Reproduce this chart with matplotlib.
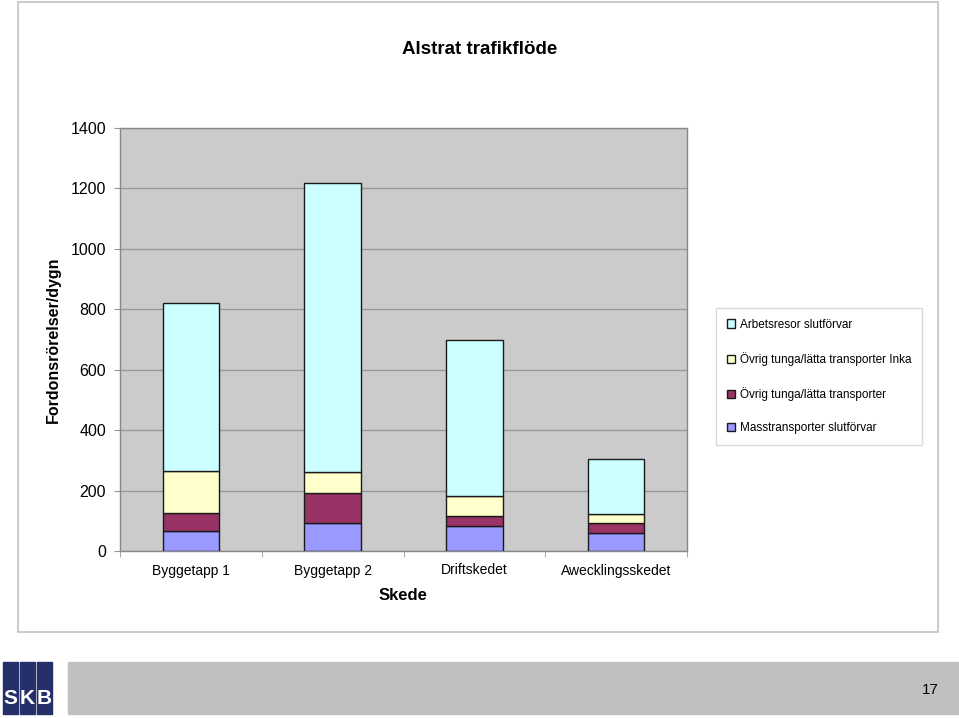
import numpy as np
import matplotlib.pyplot as plt
from matplotlib.patches import Rectangle, Patch

plt.rcParams['font.family'] = ['Liberation Sans', 'DejaVu Sans']

categories = ['Byggetapp 1', 'Byggetapp 2', 'Driftskedet', 'Awecklingsskedet']
mass = [66, 92, 82, 58]
ovrig = [61, 101, 35, 34]
ovrig_inka = [137, 69, 66, 31]
arbets = [557, 955, 517, 182]

series = [
    ('Masstransporter slutförvar', mass, '#9999FF'),
    ('Övrig tunga/lätta transporter', ovrig, '#993366'),
    ('Övrig tunga/lätta transporter Inka', ovrig_inka, '#FFFFCC'),
    ('Arbetsresor slutförvar', arbets, '#CCFFFF'),
]

W, H = 959, 718
fig = plt.figure(figsize=(W / 100, H / 100), dpi=100)

# chart frame
fig.patches.append(Rectangle((18 / W, 1 - 632 / H), 920 / W, 630 / H,
                             transform=fig.transFigure, fill=False,
                             edgecolor='#C0C0C0', lw=1.2))

ax = fig.add_axes([120 / W, 1 - 551 / H, 567 / W, 423 / H])
ax.set_facecolor('#CBCBCB')

x = np.arange(len(categories))
bottom = np.zeros(len(categories))
for name, vals, col in series:
    ax.bar(x, vals, width=0.4, bottom=bottom, color=col,
           edgecolor='#1a1a1a', linewidth=1.0, zorder=3)
    bottom += np.array(vals)

ax.set_xlim(-0.5, len(categories) - 0.5)
ax.set_ylim(0, 1400)
ax.set_yticks(range(0, 1401, 200))
ax.yaxis.grid(True, color='#999999', lw=1.0, zorder=0)
ax.set_xticks(x)
ax.set_xticklabels(categories, fontsize=10)
ax.set_xticks(np.arange(len(categories) + 1) - 0.5, minor=True)
ax.tick_params(axis='x', which='major', length=0, pad=9)
ax.tick_params(axis='x', which='minor', length=4, color='#999999')
ax.tick_params(axis='y', labelsize=11.5, length=4, color='#999999', pad=6)
for s in ax.spines.values():
    s.set_color('#888888')
    s.set_linewidth(1.0)

fig.text(480 / W, 1 - 49 / H, 'Alstrat trafikflöde', ha='center', va='center',
         fontsize=13.5, fontweight='bold')
fig.text(53 / W, 1 - 340 / H, 'Fordonsrörelser/dygn', ha='center', va='center',
         rotation=90, fontsize=11.5, fontweight='bold')
fig.text(403 / W, 1 - 596 / H, 'Skede', ha='center', va='center',
         fontsize=12, fontweight='bold')

handles = [Patch(facecolor=c, edgecolor='#1a1a1a', lw=1.0, label=n)
           for n, v, c in series[::-1]]
leg = fig.legend(handles=handles, loc='upper left',
                 bbox_to_anchor=(716 / W, 1 - 308 / H),
                 frameon=True, fancybox=False, edgecolor='#D0D0D0',
                 fontsize=8.5, handlelength=0.7, handleheight=0.7,
                 handletextpad=0.4, labelspacing=1.8, borderpad=0.9,
                 borderaxespad=0)
leg.get_frame().set_linewidth(1.0)

# footer bar
fig.patches.append(Rectangle((68 / W, 1 - 714 / H), 890 / W, 52 / H,
                             transform=fig.transFigure, color='#C0C0C0'))
fig.text(930 / W, 1 - 690 / H, '17', ha='center', va='center', fontsize=11)

# SKB logo
for x0, w in [(3, 15), (20, 15), (37, 15)]:
    fig.patches.append(Rectangle((x0 / W, 1 - 714 / H), w / W, 52 / H,
                                 transform=fig.transFigure, color='#25306B'))
for cx, letter in [(10.5, 'S'), (27.5, 'K'), (44.5, 'B')]:
    fig.text(cx / W, 1 - 698 / H, letter, ha='center', va='center',
             color='white', fontsize=15, fontweight='bold',
             family=['Liberation Sans Narrow', 'Liberation Sans'])

fig.savefig('out.png', dpi=100)
